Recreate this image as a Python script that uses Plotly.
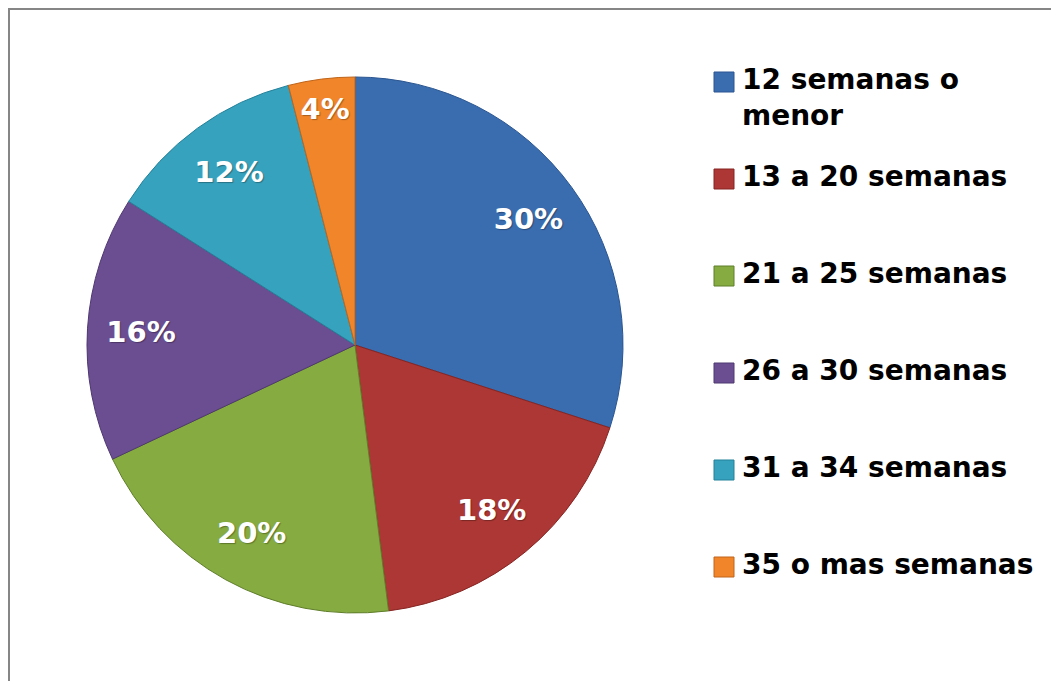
import textwrap

import plotly.graph_objects as go

# the page body keeps its default 8px margin, so the figure is drawn 8px in
OFF = 8
W, H = 1059 - OFF, 681 - OFF

labels = ["12 semanas o menor", "13 a 20 semanas", "21 a 25 semanas",
          "26 a 30 semanas", "31 a 34 semanas", "35 o mas semanas"]
values = [30, 18, 20, 16, 12, 4]
colors = ["#3A6DB0", "#AC3734", "#86AB40", "#6B4E92", "#37A2BD", "#F0852A"]
edges = ["#2A5590", "#862523", "#5F7E2A", "#4F3870", "#23819A", "#C0641A"]


def px(x):
    """ window pixel -> paper x """
    return (x - OFF) / W


def py(y):
    """ window pixel -> paper y """
    return 1 - (y - OFF) / H


pie_domain = dict(x=[px(87), px(623)], y=[py(613), py(77)])

fig = go.Figure()

fig.add_trace(go.Pie(
    labels=labels,
    values=values,
    sort=False,
    direction="clockwise",
    rotation=0,
    marker=dict(colors=colors, line=dict(color=edges, width=1)),
    textinfo="none",
    domain=pie_domain,
    showlegend=False,
    hoverinfo="label+percent",
))

# same slices again, transparent with a hole, so the percentages sit out near the rim
fig.add_trace(go.Pie(
    labels=labels,
    values=values,
    sort=False,
    direction="clockwise",
    rotation=0,
    hole=0.6,
    marker=dict(colors=["rgba(0,0,0,0)"] * len(values), line=dict(width=0)),
    texttemplate="%{percent:.0%}",
    textposition="inside",
    insidetextorientation="horizontal",
    textfont=dict(family="DejaVu Sans", size=29, color="white", weight="bold",
                  shadow="1px 1px 1px rgba(0,0,0,0.3)"),
    domain=pie_domain,
    showlegend=False,
    hoverinfo="skip",
))

# legend drawn by hand: Word spreads the items evenly down the right side
legend_font = dict(family="DejaVu Sans", size=28, color="black", weight="bold")
first_center, step = 82, 97
for i, (lab, col, edge) in enumerate(zip(labels, colors, edges)):
    yc = first_center + step * i
    fig.add_shape(type="rect", xref="paper", yref="paper",
                  x0=px(714), x1=px(734), y0=py(yc + 10), y1=py(yc - 10),
                  fillcolor=col, line=dict(color=edge, width=1))
    text = "<br>".join(textwrap.wrap(lab, width=16))
    fig.add_annotation(x=px(740), y=py(yc - 21), xref="paper", yref="paper",
                       xanchor="left", yanchor="top", align="left",
                       text=text, showarrow=False, font=legend_font)

# chart area border, cut by the window on the right and bottom
fig.add_shape(type="rect", xref="paper", yref="paper",
              x0=px(9), x1=px(1059 + 10), y0=py(681 + 10), y1=py(9),
              line=dict(color="#868686", width=2), fillcolor="rgba(0,0,0,0)")

fig.update_layout(
    width=W, height=H,
    margin=dict(l=0, r=0, t=0, b=0),
    paper_bgcolor="white",
    plot_bgcolor="white",
)

fig.write_html("out.html")
